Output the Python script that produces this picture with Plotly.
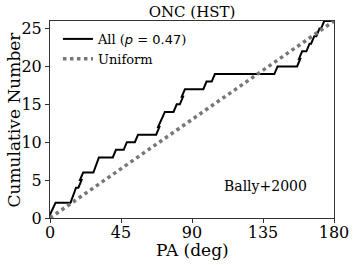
import plotly.graph_objects as go

# Sorted position angles (deg) of the sample
pa_values = [0, 2.5, 14, 15.5, 19, 20, 28.5, 30, 40.8, 47.7, 54.8, 68.3, 69.5,
             71.8, 79.3, 83.3, 84.5, 98.2, 103.5, 143.2, 157.6, 158.8, 163.5,
             166.5, 169.8, 172.8]
x_ticks = [0, 45, 90, 135, 180]
y_ticks = [0, 5, 10, 15, 20, 25]
uniform_x = [0, 180]
uniform_y = [0, len(pa_values)]

# build cumulative step curve (small ramp for each jump)
ramp = 1.0
sx, sy = [], []
for i, v in enumerate(pa_values):
    sx += [v - ramp, v + ramp]
    sy += [i, i + 1]
sx.append(180)
sy.append(len(pa_values))

serif = "DejaVu Serif"
sans = "DejaVu Sans"

fig = go.Figure()
fig.add_trace(go.Scatter(
    x=sx, y=sy, mode="lines",
    line=dict(color="black", width=2),
    name=f"All (<span style='font-family:{sans}'><i>p</i> = 0.47</span>)",
))
fig.add_trace(go.Scatter(
    x=uniform_x, y=uniform_y, mode="lines",
    line=dict(color="#777777", width=3.5, dash="dot"),
    name="Uniform",
))

axis_common = dict(
    showgrid=False, zeroline=False, showline=True, mirror=True,
    linecolor="#333333", linewidth=1, ticks="outside", ticklen=4,
    tickcolor="#333333", tickfont=dict(family=serif, size=16, color="black"),
    automargin=False,
)
fig.update_xaxes(range=[0, 180], tickvals=x_ticks, ticklabelstandoff=-4, **axis_common)
fig.update_yaxes(range=[0, 26], tickvals=y_ticks, **axis_common)

fig.add_annotation(x=0.5, y=0, xref="paper", yref="paper", yshift=-32,
                   xanchor="center", yanchor="middle",
                   text="PA (deg)", showarrow=False,
                   font=dict(family=serif, size=17, color="black"))
fig.add_annotation(x=0, y=0.5, xref="paper", yref="paper", xshift=-37,
                   xanchor="center", yanchor="middle", textangle=-90,
                   text="Cumulative Number", showarrow=False,
                   font=dict(family=serif, size=17, color="black"))
fig.add_annotation(x=0.76, y=0.163, xref="paper", yref="paper",
                   xanchor="center", yanchor="middle",
                   text="Bally+2000", showarrow=False,
                   font=dict(family=serif, size=14, color="black"))

fig.update_layout(
    width=355, height=265,
    margin=dict(l=50, r=21, t=21, b=47, pad=0),
    paper_bgcolor="white", plot_bgcolor="white",
    title=dict(text="ONC (HST)", x=0.5, xanchor="center", xref="paper",
               y=0.955, yanchor="middle",
               font=dict(family=serif, size=15, color="black")),
    legend=dict(x=0.028, y=0.985, xanchor="left", yanchor="top",
                bgcolor="rgba(0,0,0,0)", font=dict(family=serif, size=13, color="black"),
                tracegroupgap=0, itemwidth=30),
    showlegend=True,
)

# remove the default page margin so the figure fills the window exactly
fig.write_html("out.html", config={"displayModeBar": False},
               post_script="document.body.style.margin='0';")
